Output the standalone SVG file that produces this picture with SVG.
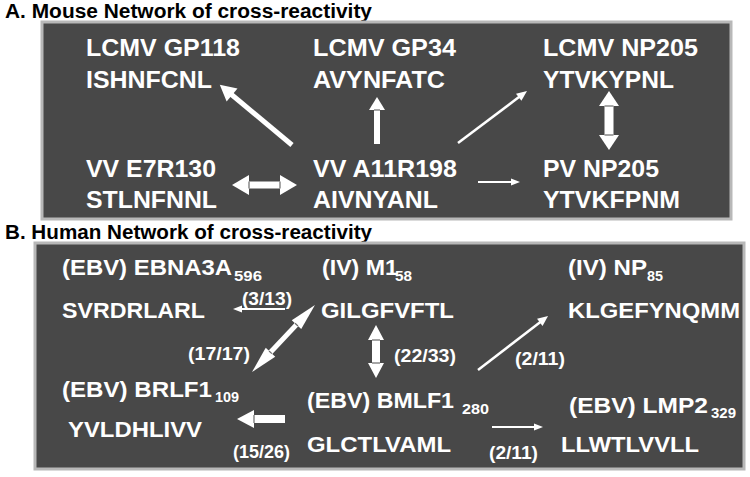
<svg xmlns="http://www.w3.org/2000/svg" width="750" height="477" viewBox="0 0 750 477">
<style>
.title{font-family:"Liberation Sans",Arial,sans-serif;font-weight:bold;font-size:19.5px;fill:#000}
.na{font-family:"Liberation Sans",Arial,sans-serif;font-weight:bold;font-size:23.5px;fill:#fff}
.nb{font-family:"Liberation Sans",Arial,sans-serif;font-weight:bold;font-size:22.5px;fill:#fff}
.sub{font-family:"Liberation Sans",Arial,sans-serif;font-weight:bold;font-size:15px;fill:#fff}
.lbl{font-family:"Liberation Sans",Arial,sans-serif;font-weight:bold;font-size:18.5px;fill:#fff}
.panel{fill:#484848;stroke:#b8b8b8;stroke-width:3}
.w{fill:#fff}
.ln{stroke:#fff;fill:none}
.mk{stroke:#6a6a6a;stroke-width:1.2}
</style>
<rect width="750" height="477" fill="#fff"/>
<text class="title" x="5" y="18" textLength="367" lengthAdjust="spacingAndGlyphs">A. Mouse Network of cross-reactivity</text>
<rect class="panel" x="42" y="22" width="689" height="197"/>
<text class="title" x="5" y="239" textLength="367" lengthAdjust="spacingAndGlyphs">B. Human Network of cross-reactivity</text>
<rect class="panel" x="35" y="243" width="709" height="226"/>

<g id="a-gp118"><text class="na" x="86" y="56" textLength="154" lengthAdjust="spacingAndGlyphs">LCMV GP118</text><text class="na" x="86" y="88" textLength="126" lengthAdjust="spacingAndGlyphs">ISHNFCNL</text></g>
<g id="a-gp34"><text class="na" x="313" y="56" textLength="143" lengthAdjust="spacingAndGlyphs">LCMV GP34</text><text class="na" x="313" y="88" textLength="132" lengthAdjust="spacingAndGlyphs">AVYNFATC</text></g>
<g id="a-np205"><text class="na" x="543" y="56" textLength="155" lengthAdjust="spacingAndGlyphs">LCMV NP205</text><text class="na" x="543" y="88" textLength="131" lengthAdjust="spacingAndGlyphs">YTVKYPNL</text></g>
<g id="a-e7r130"><text class="na" x="86" y="177" textLength="130" lengthAdjust="spacingAndGlyphs">VV E7R130</text><text class="na" x="86" y="208" textLength="131" lengthAdjust="spacingAndGlyphs">STLNFNNL</text></g>
<g id="a-a11r198"><text class="na" x="313" y="177" textLength="144" lengthAdjust="spacingAndGlyphs">VV A11R198</text><text class="na" x="313" y="208" textLength="125" lengthAdjust="spacingAndGlyphs">AIVNYANL</text></g>
<g id="a-pvnp205"><text class="na" x="543" y="177" textLength="116" lengthAdjust="spacingAndGlyphs">PV NP205</text><text class="na" x="543" y="208" textLength="137" lengthAdjust="spacingAndGlyphs">YTVKFPNM</text></g>

<g id="b-ebna3a"><text class="nb" x="62" y="275" textLength="170" lengthAdjust="spacingAndGlyphs">(EBV) EBNA3A</text><text class="sub" x="234" y="281" textLength="28" lengthAdjust="spacingAndGlyphs">596</text><text class="nb" x="62" y="318" textLength="143" lengthAdjust="spacingAndGlyphs">SVRDRLARL</text></g>
<g id="b-m1"><text class="nb" x="322" y="275" textLength="76" lengthAdjust="spacingAndGlyphs">(IV) M1</text><text class="sub" x="395" y="281" textLength="17" lengthAdjust="spacingAndGlyphs">58</text><text class="nb" x="321" y="318" textLength="133" lengthAdjust="spacingAndGlyphs">GILGFVFTL</text></g>
<g id="b-np85"><text class="nb" x="568" y="275" textLength="79" lengthAdjust="spacingAndGlyphs">(IV) NP</text><text class="sub" x="647" y="281" textLength="16" lengthAdjust="spacingAndGlyphs">85</text><text class="nb" x="568" y="318" textLength="172" lengthAdjust="spacingAndGlyphs">KLGEFYNQMM</text></g>
<g id="b-brlf1"><text class="nb" x="62" y="397" textLength="150" lengthAdjust="spacingAndGlyphs">(EBV) BRLF1</text><text class="sub" x="215" y="402" textLength="24" lengthAdjust="spacingAndGlyphs">109</text><text class="nb" x="68" y="437" textLength="134" lengthAdjust="spacingAndGlyphs">YVLDHLIVV</text></g>
<g id="b-bmlf1"><text class="nb" x="307" y="408" textLength="147" lengthAdjust="spacingAndGlyphs">(EBV) BMLF1</text><text class="sub" x="462" y="414" textLength="27" lengthAdjust="spacingAndGlyphs">280</text><text class="nb" x="307" y="452" textLength="144" lengthAdjust="spacingAndGlyphs">GLCTLVAML</text></g>
<g id="b-lmp2"><text class="nb" x="569" y="413" textLength="139" lengthAdjust="spacingAndGlyphs">(EBV) LMP2</text><text class="sub" x="711" y="418" textLength="25" lengthAdjust="spacingAndGlyphs">329</text><text class="nb" x="561" y="452" textLength="138" lengthAdjust="spacingAndGlyphs">LLWTLVVLL</text></g>

<g id="connectors">
  <!-- Panel A -->
  <g transform="translate(292,145) rotate(219.8)"><line class="ln" x1="0" y1="0" x2="80" y2="0" stroke-width="5"/><polygon class="w" points="94,0 78,-8.5 78,8.5"/></g>
  <g><rect class="w" x="374" y="109" width="6" height="35"/><polygon class="w" points="377,97 369,110 385,110"/><line class="mk" x1="374" y1="110" x2="380" y2="110"/></g>
  <g transform="translate(458,143) rotate(-37)"><line class="ln" x1="0" y1="0" x2="78" y2="0" stroke-width="2.5"/><polygon class="w" points="86.4,0 76,-4.5 76,4.5"/></g>
  <g><rect class="w" x="604.5" y="105" width="9" height="31"/><polygon class="w" points="609,91 599,106 619,106"/><polygon class="w" points="609,150 599,135 619,135"/><line class="mk" x1="604.5" y1="106" x2="613.5" y2="106"/><line class="mk" x1="604.5" y1="135" x2="613.5" y2="135"/></g>
  <g><rect class="w" x="249" y="181.5" width="31" height="7"/><polygon class="w" points="232,185 249,175 249,195"/><polygon class="w" points="297,185 280,175 280,195"/><line class="mk" x1="249" y1="181.5" x2="249" y2="188.5"/><line class="mk" x1="280" y1="181.5" x2="280" y2="188.5"/></g>
  <g><line class="ln" x1="478" y1="182" x2="512" y2="182" stroke-width="2"/><polygon class="w" points="520,182 511,178.5 511,185.5"/></g>
  <!-- Panel B -->
  <g><line class="ln" x1="285" y1="309" x2="240" y2="309" stroke-width="2"/><polygon class="w" points="233,309 242,305.5 242,312.5"/></g>
  <g transform="translate(252,372) rotate(-46.8)"><rect class="w" x="26" y="-2.5" width="40" height="5"/><polygon class="w" points="0,0 27,-6.5 27,6.5"/><polygon class="w" points="92,0 65,-6.5 65,6.5"/><line class="mk" x1="27" y1="-2" x2="27" y2="2"/><line class="mk" x1="65" y1="-2" x2="65" y2="2"/></g>
  <g><rect class="w" x="372" y="339" width="8" height="25"/><polygon class="w" points="376,325 368,340 384,340"/><polygon class="w" points="376,378 368,363 384,363"/><line class="mk" x1="372" y1="340" x2="380" y2="340"/><line class="mk" x1="372" y1="363" x2="380" y2="363"/></g>
  <g><rect class="w" x="253" y="415" width="32" height="8"/><polygon class="w" points="237,419 254,410 254,428"/><line class="mk" x1="254" y1="415" x2="254" y2="423"/></g>
  <g transform="translate(478,370) rotate(-37.6)"><line class="ln" x1="0" y1="0" x2="80" y2="0" stroke-width="2.5"/><polygon class="w" points="88.4,0 78,-4.5 78,4.5"/></g>
  <g><line class="ln" x1="492" y1="427" x2="535" y2="427" stroke-width="2"/><polygon class="w" points="543,427 534,423.5 534,430.5"/></g>
  <text class="lbl" x="242" y="305" textLength="50" lengthAdjust="spacingAndGlyphs">(3/13)</text>
  <text class="lbl" x="188" y="360" textLength="62" lengthAdjust="spacingAndGlyphs">(17/17)</text>
  <text class="lbl" x="394" y="362" textLength="62" lengthAdjust="spacingAndGlyphs">(22/33)</text>
  <text class="lbl" x="515" y="365" textLength="50" lengthAdjust="spacingAndGlyphs">(2/11)</text>
  <text class="lbl" x="233" y="458" textLength="57" lengthAdjust="spacingAndGlyphs">(15/26)</text>
  <text class="lbl" x="489" y="459" textLength="49" lengthAdjust="spacingAndGlyphs">(2/11)</text>
</g>
</svg>
